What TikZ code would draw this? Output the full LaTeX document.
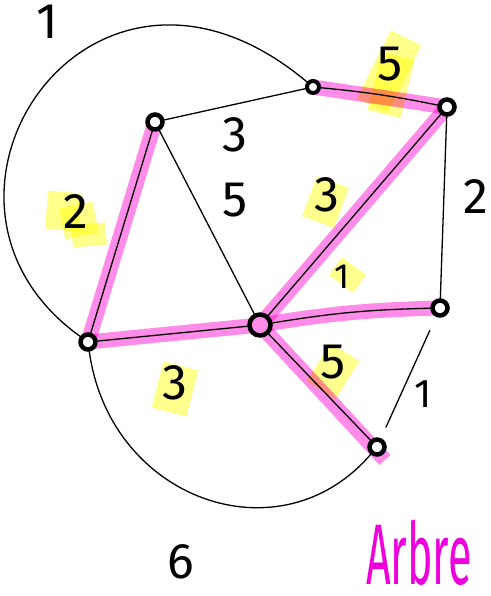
\documentclass[tikz,border=0pt]{standalone}
\usepackage{fontspec}
\setmainfont{Fira Sans}
\usepackage{xcolor}
\usepackage{graphicx}
\usetikzlibrary{backgrounds}

\definecolor{treepink}{RGB}{255,140,232}
\definecolor{marker}{RGB}{255,255,140}
\definecolor{arbre}{RGB}{238,0,220}

\begin{document}
\begin{tikzpicture}[x=1pt, y=-1pt, line cap=round,
    vertex/.style={circle, draw, fill=white, line width=4.5pt, minimum size=15pt, inner sep=0pt},
    link/.style={line width=1.3pt},
    tree/.style={treepink, line width=15pt},
    blob/.style={marker, line width=34pt},
    weight/.style={font=\fontsize{50}{50}\selectfont}]
        \useasboundingbox (0,0) rectangle (490,596);

        \node[vertex] (s1) at (155,122) {};
        \node[vertex, minimum size=12pt, line width=4pt] (s2) at (313,87) {};
        \node[vertex] (s3) at (447,107) {};
        \node[vertex] (s4) at (88,342) {};
        \node[vertex, minimum size=21pt, fill=treepink] (s5) at (260,325) {};
        \node[vertex] (s6) at (440,308) {};
        \node[vertex] (s7) at (377,447) {};

        % surlignage
        \begin{scope}[on background layer]
        \begin{scope}[blend mode=multiply]
        \draw[blob] (406,38) -- (372,106);
        \draw[blob] (398,56) -- (384,114);
        \draw[blob] (65,192) -- (62,230);
        \draw[blob] (76,205) -- (82,236);
        \draw[blob] (88,224) -- (90,246);
        \draw[blob] (333,182) -- (318,222);
        \draw[blob, line width=30pt] (354,266) -- (341,284);
        \draw[blob, line width=36pt] (181,366) -- (169,412);
        \draw[blob] (345,352) -- (321,390);
        \end{scope}
        \begin{scope}[blend mode=multiply]
        \path[tree]
        (s1.center) edge (s4.center)
        (s2.center) edge (s3.center)
        (s3.center) edge (s5.center)
        (s4.center) edge (s5.center)
        (s5.center) edge[bend left=4] (s6.center)
        (s5.center) edge (385,460);
        \end{scope}
        \end{scope}

        \path[link]
        (s1) edge (s2)
        (s2) edge[bend left=3] (s3)
        (s1) edge (s4)
        (s1) edge (s5)
        (s3) edge (s5)
        (s3) edge (s6)
        (s5) edge[bend left=4] (s6)
        (s4) edge (s5)
        (s5) edge (s7)
        (s6) edge[shorten <=15pt, shorten >=12pt] (s7);
        \draw[link] (s4) .. controls (-110,200) and (90,-100) .. (s2);
        \draw[link] (s4) .. controls (110,500) and (280,560) .. (s7);

        \node[weight] (w42) at (47,22) {1};
        \node[weight] (w12) at (235,135) {3};
        \node[weight] (w23) at (390,64) {5};
        \node[weight] (w14) at (76,212) {2};
        \node[weight] (w15) at (235,200) {5};
        \node[weight] (w35) at (327,195) {3};
        \node[weight] (w36) at (476,197) {2};
        \node[weight, scale=0.7] (w56) at (342,277) {1};
        \node[weight] (w45) at (175,383) {3};
        \node[weight] (w57) at (333,362) {5};
        \node[weight, scale=0.8] (w67) at (423,394) {1};
        \node[weight] (w47) at (181,562) {6};

        \node[arbre, font=\fontsize{86}{86}\selectfont, anchor=base west, inner sep=0pt] (titre) at (366,584) {\scalebox{0.5}[1]{Arbre}};
\end{tikzpicture}
\end{document}
